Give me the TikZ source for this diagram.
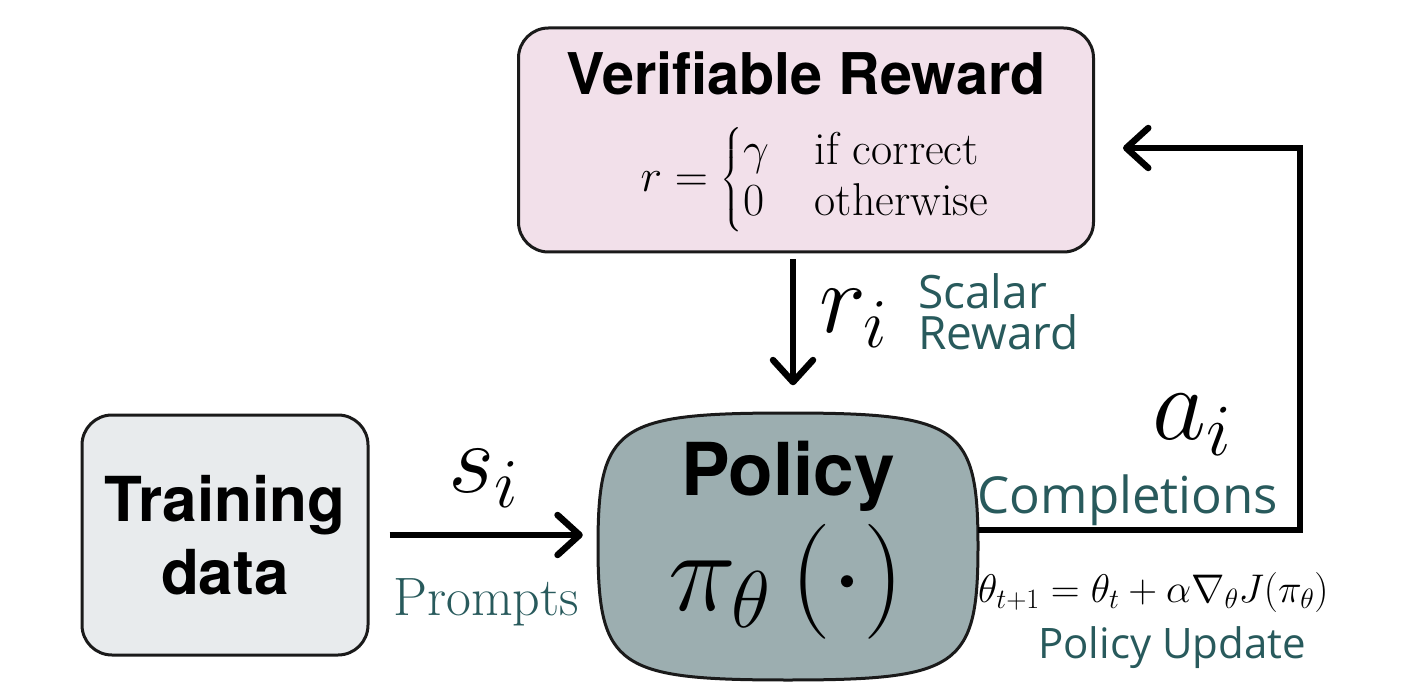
\RequirePackage{fix-cm}
\documentclass[tikz,border=0pt]{standalone}
\usepackage{amsmath}
\usepackage{fontspec}
\newfontfamily\headfont{TeX Gyre Heros}
\newfontfamily\tagfont{Open Sans}
\usetikzlibrary{arrows.meta,positioning}

\definecolor{rewardpink}{RGB}{242,224,234}
\definecolor{policygrey}{RGB}{156,174,176}
\definecolor{datagrey}{RGB}{232,235,237}
\definecolor{tagteal}{RGB}{40,90,92}
\definecolor{edge}{RGB}{26,26,26}

\tikzset{
  box/.style={rectangle, draw=edge, line width=3pt, rounded corners=30pt},
  headtext/.style={font=\headfont\bfseries\fontsize{#1}{#1}\selectfont},
  tagtext/.style={text=tagteal, font=\tagfont\fontsize{#1}{41}\selectfont, inner sep=0pt},
  mathtag/.style={font=\fontsize{100}{100}\selectfont, inner sep=0pt},
  flow/.style={line width=6.5pt, -{Straight Barb[round,length=22pt,width=40pt]}},
}

\begin{document}
\begin{tikzpicture}[x=1pt,y=-1pt]
\useasboundingbox (0,0) rectangle (1408,692);

% Reward box
\node[box, fill=rewardpink, minimum width=575pt, minimum height=224pt] (reward) at (806,140) {};
\node[headtext=57.5, anchor=base] (rewardtitle) at (806,95) {Verifiable Reward};
\node[font=\fontsize{46}{42.5}\selectfont, inner sep=0pt] (rewardrule) at (815,180) {$r=\begin{cases}\gamma & \text{if correct}\\ 0 & \text{otherwise}\end{cases}$};

% Training data
\node[box, fill=datagrey, minimum width=286pt, minimum height=240pt, align=center, font=\headfont\bfseries\fontsize{62}{73}\selectfont] (data) at (225,535) {Training\\data};

% Policy
\node[minimum width=380pt, minimum height=267pt] (policy) at (788,546) {};
\draw[draw=edge, line width=3pt, fill=policygrey] (788,413) .. controls (959,413) and (978,426) .. (978,546) .. controls (978,667) and (959,680) .. (788,680) .. controls (617,680) and (598,667) .. (598,546) .. controls (598,426) and (617,413) .. (788,413) -- cycle;
\node[headtext=73, anchor=base] (policytitle) at (788,495) {Policy};
\node[font=\fontsize{115}{120}\selectfont, inner sep=0pt] (policyfn) at (786,582) {$\pi_\theta\,(\cdot)$};

% Prompts
\draw[flow] ([xshift=20pt]data.east) -- ([xshift=-15pt]policy.west |- data.east);
\node[mathtag] (promptsym) at (483,478) {$s_i$};
\node[tagtext=54, font=\rmfamily\fontsize{54}{54}\selectfont, anchor=base] (prompttag) at (486,615) {Prompts};

% Scalar reward
\draw[flow] ([xshift=-13pt,yshift=-6pt]reward.south) -- ([xshift=5pt,yshift=27pt]policy.north);
\node[mathtag] (rewardsym) at (853,318) {$r_i$};
\node[tagtext=46, anchor=west, align=left] (rewardtag) at (918,312) {Scalar\\Reward};

% Completions back to the reward
\coordinate (turn) at (1300,148);
\draw[flow, line join=miter] ([yshift=16pt]policy.east) -| (turn) -- ([xshift=28pt]reward.east |- turn);
\node[mathtag, font=\fontsize{105}{105}\selectfont] (actsym) at (1192,425) {$a_i$};
\node[tagtext=51, anchor=base] (acttag) at (1128,513) {Completions};

% Policy update
\node[font=\fontsize{40}{40}\selectfont, inner sep=0pt, anchor=base west] (update) at (978,602) {$\theta_{t+1}=\theta_t+\alpha\nabla_\theta J(\pi_\theta)$};
\node[tagtext=42, anchor=base] (updatetag) at (1172,658) {Policy Update};

\end{tikzpicture}
\end{document}
